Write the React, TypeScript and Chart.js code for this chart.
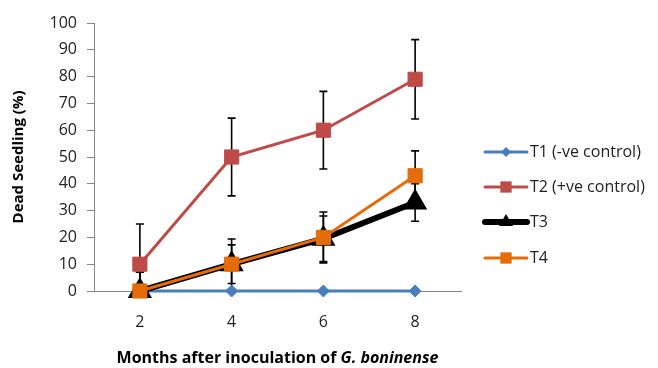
import React, { useEffect, useRef } from "react";
import { Chart, registerables } from "chart.js";

Chart.register(...registerables);

const months = ["2", "4", "6", "8"];
const t1Values = [0, 0, 0, 0];
const t2Values = [10, 50, 60, 79];
const t3Values = [0, 10, 19.5, 33];
const t4Values = [0, 10, 20, 43];
const t1Errors = [0, 0, 0, 0];
const t2Errors = [15, 14.5, 14.5, 14.8];
const t3Errors = [7, 7.2, 8.5, 7];
const t4Errors = [7, 9.4, 9.5, 9.3];
const seriesNames = ["T1 (-ve control)", "T2 (+ve control)", "T3", "T4"];
const yTitle = "Dead Seedling (%)";
const xTitleMain = "Months after inoculation of ";
const xTitleItalic = "G. boninense";

const FONT = "'Open Sans', 'DejaVu Sans', sans-serif";
const BLUE = "#4A7EBB";
const RED = "#BE4B48";
const BLACK = "#000000";
const ORANGE = "#E46C0A";

const errorsByDataset = [t1Errors, t2Errors, t3Errors, t4Errors];

const errorBarPlugin = {
  id: "errorBars",
  beforeDatasetsDraw(chart: any) {
    const { ctx, chartArea } = chart;
    const yScale = chart.scales.y;
    ctx.save();
    ctx.beginPath();
    ctx.rect(chartArea.left, chartArea.top - 2, chartArea.right - chartArea.left, chartArea.bottom - chartArea.top + 2);
    ctx.clip();
    ctx.strokeStyle = "#000";
    ctx.lineWidth = 1.6;
    chart.data.datasets.forEach((ds: any, di: number) => {
      const meta = chart.getDatasetMeta(di);
      const errs = errorsByDataset[di];
      meta.data.forEach((pt: any, i: number) => {
        const e = errs[i];
        if (!e) return;
        const v = ds.data[i];
        const x = pt.x;
        const yTop = yScale.getPixelForValue(v + e);
        const yBot = yScale.getPixelForValue(v - e);
        ctx.beginPath();
        ctx.moveTo(x, yTop);
        ctx.lineTo(x, yBot);
        ctx.moveTo(x - 4, yTop);
        ctx.lineTo(x + 4, yTop);
        ctx.moveTo(x - 4, yBot);
        ctx.lineTo(x + 4, yBot);
        ctx.stroke();
      });
    });
    ctx.restore();
  },
};

function drawMarker(ctx: CanvasRenderingContext2D, style: string, x: number, y: number, r: number, fill: string) {
  ctx.beginPath();
  if (style === "rectRot") {
    ctx.moveTo(x, y - r);
    ctx.lineTo(x + r, y);
    ctx.lineTo(x, y + r);
    ctx.lineTo(x - r, y);
    ctx.closePath();
  } else if (style === "rect") {
    const s = r * Math.SQRT1_2;
    ctx.rect(x - s, y - s, 2 * s, 2 * s);
  } else {
    ctx.moveTo(x, y - r);
    ctx.lineTo(x + r * Math.sin((2 * Math.PI) / 3), y - r * Math.cos((2 * Math.PI) / 3));
    ctx.lineTo(x + r * Math.sin((4 * Math.PI) / 3), y - r * Math.cos((4 * Math.PI) / 3));
    ctx.closePath();
  }
  ctx.fillStyle = fill;
  ctx.fill();
}

const legendPlugin = {
  id: "customLegend",
  afterDraw(chart: any) {
    const { ctx } = chart;
    const rows = [152, 187, 222, 258];
    const x0 = 485;
    const x1 = 527;
    ctx.save();
    chart.data.datasets.forEach((ds: any, i: number) => {
      const y = rows[i];
      ctx.strokeStyle = ds.borderColor;
      ctx.lineWidth = i === 2 ? 6 : 3;
      ctx.lineCap = "round";
      ctx.beginPath();
      ctx.moveTo(x0, y);
      ctx.lineTo(x1, y);
      ctx.stroke();
      const r = i === 0 ? 5 : 8;
      drawMarker(ctx, ds.pointStyle, (x0 + x1) / 2, y, r, ds.pointBackgroundColor);
      ctx.fillStyle = "#222";
      ctx.font = `16px ${FONT}`;
      ctx.textAlign = "left";
      ctx.textBaseline = "middle";
      ctx.fillText(seriesNames[i], x1 + 3, y);
    });
    ctx.restore();
  },
};

const xTitlePlugin = {
  id: "xTitle",
  afterDraw(chart: any) {
    const { ctx, chartArea } = chart;
    ctx.save();
    ctx.fillStyle = "#000";
    ctx.textBaseline = "middle";
    ctx.textAlign = "left";
    const fMain = `bold 16px ${FONT}`;
    const fIt = `italic bold 16px ${FONT}`;
    ctx.font = fMain;
    const w1 = ctx.measureText(xTitleMain).width;
    ctx.font = fIt;
    const w2 = ctx.measureText(xTitleItalic).width;
    const cx = (chartArea.left + chartArea.right) / 2;
    const start = cx - (w1 + w2) / 2;
    const y = 358;
    ctx.font = fMain;
    ctx.fillText(xTitleMain, start, y);
    ctx.font = fIt;
    ctx.fillText(xTitleItalic, start + w1, y);
    ctx.restore();
  },
};

export default function App() {
  const ref = useRef<HTMLCanvasElement>(null);
  useEffect(() => {
    document.body.style.margin = "0";
    const canvas = ref.current;
    if (!canvas) return;
    const mk = (label: string, data: number[], color: string, style: string, radius: number, width: number, order: number) => ({
      label,
      data,
      borderColor: color,
      backgroundColor: color,
      pointBackgroundColor: color,
      pointBorderColor: color,
      pointBorderWidth: style === "triangle" ? 2.5 : 1,
      pointStyle: style,
      pointRadius: radius,
      borderWidth: width,
      tension: 0,
      clip: false as any,
      order,
    });
    const chart = new Chart(canvas, {
      type: "line",
      data: {
        labels: months,
        datasets: [
          mk(seriesNames[0], t1Values, BLUE, "rectRot", 6, 3, 3),
          mk(seriesNames[1], t2Values, RED, "rect", 10, 3, 2),
          mk(seriesNames[2], t3Values, BLACK, "triangle", 11.5, 6, 1),
          mk(seriesNames[3], t4Values, ORANGE, "rect", 10, 3, 0),
        ],
      },
      options: {
        animation: false,
        responsive: false,
        devicePixelRatio: 1,
        layout: { padding: { top: 23, right: 197, left: 0, bottom: 0 } },
        plugins: {
          legend: { display: false },
          tooltip: { enabled: false },
        },
        scales: {
          x: {
            type: "category",
            offset: true,
            grid: { display: true, drawOnChartArea: false, drawTicks: false, tickLength: 0 },
            border: { display: true, color: "#868686", width: 1 },
            ticks: { color: "#222", font: { family: FONT, size: 16 }, padding: 22 },
            afterFit: (s: any) => {
              s.height = 77;
            },
          },
          y: {
            min: 0,
            max: 100,
            ticks: { stepSize: 10, color: "#222", font: { family: FONT, size: 16 }, padding: 10 },
            grid: { display: true, drawOnChartArea: false, drawTicks: true, tickLength: 7, color: "#868686" },
            border: { display: true, color: "#868686", width: 1 },
            title: {
              display: true,
              text: yTitle,
              color: "#000",
              font: { family: FONT, size: 15, weight: "bold" },
              padding: { top: 10, bottom: 0 },
            },
            afterFit: (s: any) => {
              s.width = 94;
            },
          },
        },
      },
      plugins: [errorBarPlugin, legendPlugin, xTitlePlugin],
    });
    return () => chart.destroy();
  }, []);
  return (
    <div style={{ width: 658, height: 368 }}>
      <canvas ref={ref} width={658} height={368} />
    </div>
  );
}
